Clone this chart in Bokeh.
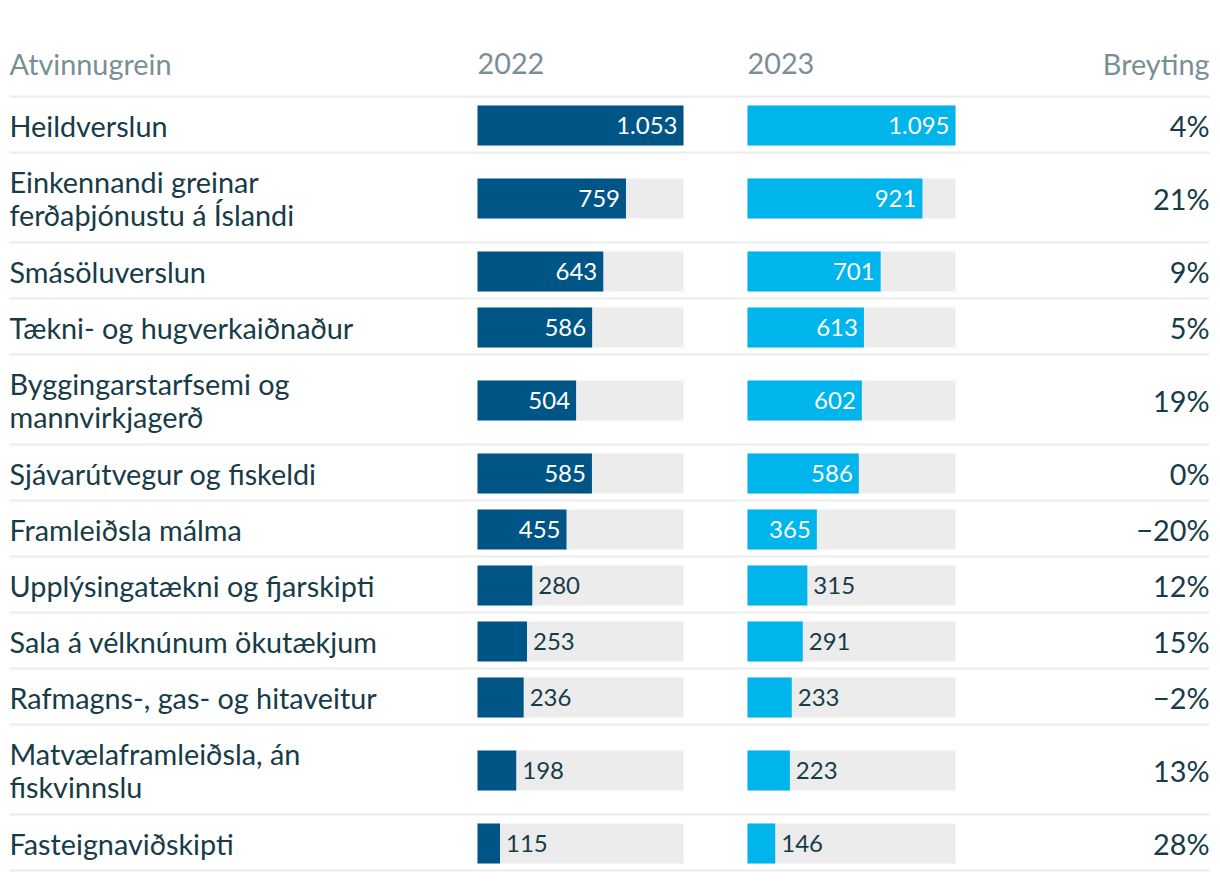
from bokeh.plotting import figure
from bokeh.models import ColumnDataSource, Range1d
from bokeh.core.properties import value
from bokeh.embed import file_html
from bokeh.resources import INLINE

# ---- data ----
categories = [
    "Heildverslun",
    "Einkennandi greinar\nferðaþjónustu á Íslandi",
    "Smásöluverslun",
    "Tækni- og hugverkaiðnaður",
    "Byggingarstarfsemi og\nmannvirkjagerð",
    "Sjávarútvegur og fiskeldi",
    "Framleiðsla málma",
    "Upplýsingatækni og fjarskipti",
    "Sala á vélknúnum ökutækjum",
    "Rafmagns-, gas- og hitaveitur",
    "Matvælaframleiðsla, án\nfiskvinnslu",
    "Fasteignaviðskipti",
]
values_2022 = [1053, 759, 643, 586, 504, 585, 455, 280, 253, 236, 198, 115]
values_2023 = [1095, 921, 701, 613, 602, 586, 365, 315, 291, 233, 223, 146]
change_labels = ["4%", "21%", "9%", "5%", "19%", "0%", "−20%", "12%", "15%", "−2%", "13%", "28%"]
headers = ["Atvinnugrein", "2022", "2023", "Breyting"]

# ---- style / layout ----
FONT = value("Lato")
TEXT_C = "#173c48"
HEAD_C = "#7a8f95"
DARK = "#005587"
LIGHT = "#00b4ec"
BG = "#ececec"
SEP = "#ebebeb"
BIG = "28.8px"
SMALL = "24px"

W, H = 1216, 876
X0, Y0 = 1, 1
LEFT, RIGHT = 10, 1210
C22, W22 = 478, 206
C23, W23 = 748, 208
HEADER_Y = 64
FIRST_LINE = 97
ROW1, ROW2 = 56, 90
BAR_H = 40

p = figure(width=W, height=H, x_range=Range1d(X0, X0 + W), y_range=Range1d(Y0 + H, Y0),
           output_backend="svg", toolbar_location=None, min_border=0,
           x_axis_type=None, y_axis_type=None)
p.grid.visible = False
p.outline_line_color = None
p.background_fill_color = "white"
p.border_fill_color = "white"

# row geometry
centers, seps = [], [FIRST_LINE]
top = FIRST_LINE
for c in categories:
    h = ROW2 if "\n" in c else ROW1
    centers.append(top + h / 2 + 1)
    top += h
    seps.append(top)

# separators
p.segment(x0=[LEFT] * len(seps), x1=[RIGHT] * len(seps), y0=seps, y1=seps,
          line_color=SEP, line_width=2)

# headers
p.text(x=[LEFT, C22, C23], y=[HEADER_Y] * 3, text=headers[:3], text_font=FONT,
       text_font_size=BIG, text_color=HEAD_C, text_baseline="middle", text_align="left")
p.text(x=[RIGHT], y=[HEADER_Y], text=[headers[3]], text_font=FONT,
       text_font_size=BIG, text_color=HEAD_C, text_baseline="middle", text_align="right")

# category labels
p.text(x=[LEFT] * len(categories), y=centers, text=categories, text_font=FONT,
       text_font_size=BIG, text_color=TEXT_C, text_baseline="middle", text_align="left",
       text_line_height=0.96)

# change labels
p.text(x=[RIGHT] * len(categories), y=centers, text=change_labels, text_font=FONT,
       text_font_size=BIG, text_color=TEXT_C, text_baseline="middle", text_align="right")


def fmt(v):
    return f"{v:,}".replace(",", ".")


def bars(vals, start, width, color):
    vmax = max(vals)
    tops = [c - BAR_H / 2 for c in centers]
    bots = [c + BAR_H / 2 for c in centers]
    p.quad(left=[start] * len(vals), right=[start + width] * len(vals), top=tops, bottom=bots,
           fill_color=BG, line_color=None)
    ends = [start + v / vmax * width for v in vals]
    p.quad(left=[start] * len(vals), right=ends, top=tops, bottom=bots,
           fill_color=color, line_color=None)
    inside = [(e - start) > 64 for e in ends]
    ins = ColumnDataSource(dict(
        x=[e - 6 for e, i in zip(ends, inside) if i],
        y=[c for c, i in zip(centers, inside) if i],
        t=[fmt(v) for v, i in zip(vals, inside) if i]))
    out = ColumnDataSource(dict(
        x=[e + 6 for e, i in zip(ends, inside) if not i],
        y=[c for c, i in zip(centers, inside) if not i],
        t=[fmt(v) for v, i in zip(vals, inside) if not i]))
    p.text(x="x", y="y", text="t", source=ins, text_font=FONT, text_font_size=SMALL,
           text_color="white", text_baseline="middle", text_align="right")
    p.text(x="x", y="y", text="t", source=out, text_font=FONT, text_font_size=SMALL,
           text_color=TEXT_C, text_baseline="middle", text_align="left")


bars(values_2022, C22, W22, DARK)
bars(values_2023, C23, W23, LIGHT)

open("out.html", "w").write(file_html(p, INLINE))
